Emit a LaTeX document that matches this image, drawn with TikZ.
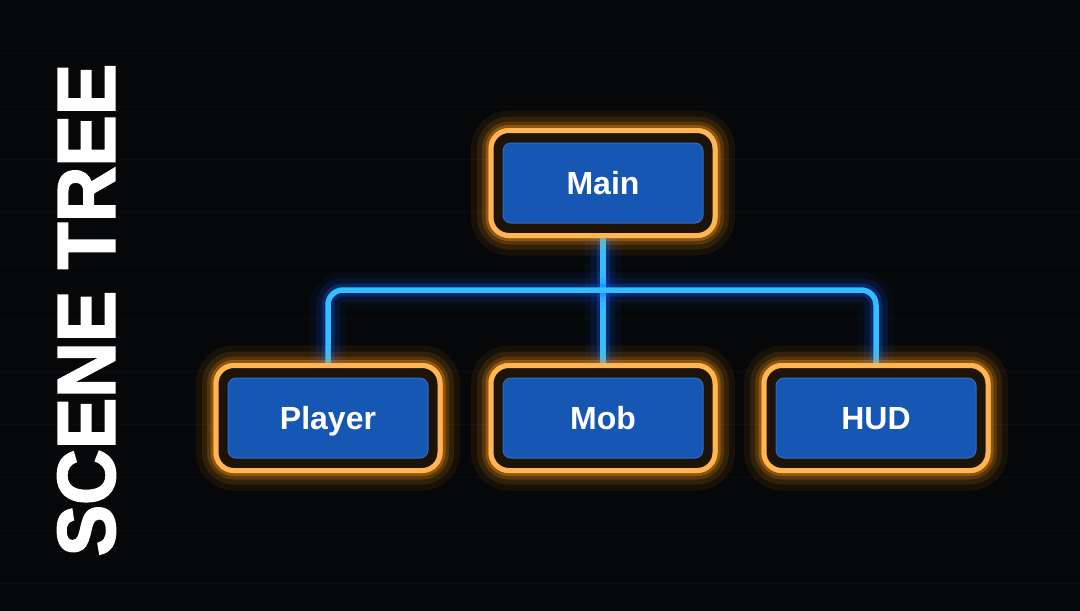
\documentclass[tikz,border=0pt]{standalone}
\usepackage{fontspec}
\setmainfont{Liberation Sans}
\newfontfamily\titlefont[FakeBold=2.2]{Liberation Sans Bold}
\definecolor{bgc}{HTML}{060708}
\definecolor{gridc}{HTML}{0B0D10}
\definecolor{orng}{HTML}{FFB652}
\definecolor{orglow}{HTML}{FF9A1A}
\definecolor{brn}{HTML}{1E1307}
\definecolor{boxblue}{HTML}{1657B4}
\definecolor{boxedge}{HTML}{2E6CC4}
\definecolor{wire}{HTML}{35BEFF}
\definecolor{wireglow}{HTML}{0A5CFF}
\tikzset{
  outerbox/.style={draw=orng, line width=5pt, fill=brn, rounded corners=18pt,
    minimum width=224pt, minimum height=105pt, inner sep=0pt,
    preaction={draw=orglow, line width=40pt, opacity=0.04},
    preaction={draw=orglow, line width=28pt, opacity=0.06},
    preaction={draw=orglow, line width=18pt, opacity=0.10},
    preaction={draw=orglow, line width=11pt, opacity=0.18}},
  innerbox/.style={fill=boxblue, draw=boxedge, line width=1pt, rounded corners=8pt,
    minimum width=200pt, minimum height=80pt, inner sep=0pt, text=white,
    text height=23pt, text depth=0pt,
    font=\bfseries\fontsize{32}{32}\selectfont},
  wirestyle/.style={draw=wire, line width=5.5pt, rounded corners=15pt,
    preaction={draw=wireglow, line width=36pt, opacity=0.06},
    preaction={draw=wireglow, line width=24pt, opacity=0.10},
    preaction={draw=wireglow, line width=13pt, opacity=0.28}},
}
\begin{document}
\begin{tikzpicture}[x=1pt,y=-1pt]
\useasboundingbox[fill=bgc] (0,0) rectangle (1080,611);
\foreach \yy in {53,106,...,600} {\draw[gridc, line width=0.6pt] (0,\yy) -- (1080,\yy);}
% boxes placed first so the wires can be drawn between them
\node[outerbox] (main) at (603,183) {};
\node[outerbox] (player) at (328,418) {};
\node[outerbox] (mob) at (603,418) {};
\node[outerbox] (hud) at (876,418) {};
\draw[wirestyle] (main.south) -- (mob.north);
\draw[wirestyle] (player.north) -- ++(0,-73) -| (hud.north);
% redraw boxes on top of wires
\node[outerbox] at (main) {};
\node[outerbox] at (player) {};
\node[outerbox] at (mob) {};
\node[outerbox] at (hud) {};
\node[innerbox] (mainin) at (main) {Main};
\node[innerbox] (playerin) at (player) {Player};
\node[innerbox] (mobin) at (mob) {Mob};
\node[innerbox] (hudin) at (hud) {HUD};
\node[rotate=90, text=white, inner sep=0pt, font=\titlefont\fontsize{82}{82}\selectfont] (title) at (86.5,310) {\scalebox{0.94}[1]{SCENE TREE}};
\end{tikzpicture}
\end{document}
